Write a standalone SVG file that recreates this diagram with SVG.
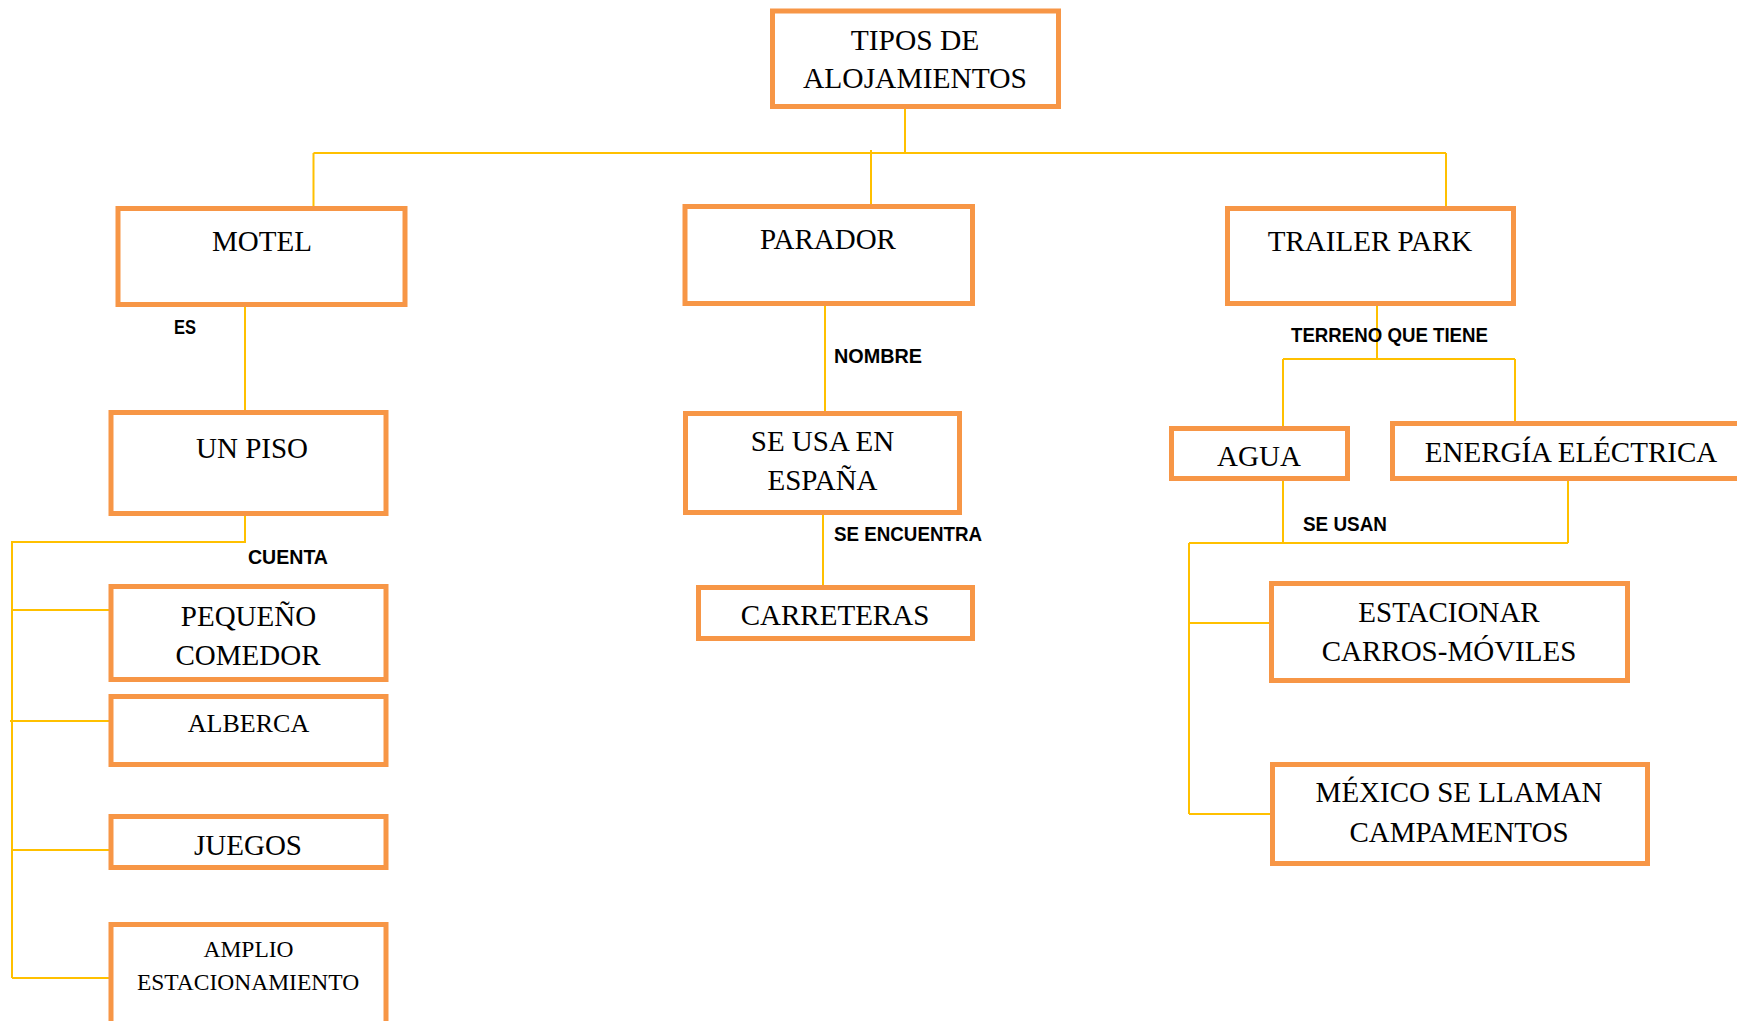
<svg xmlns="http://www.w3.org/2000/svg" width="1737" height="1021" viewBox="0 0 1737 1021">
<style>
.box{fill:#fff;stroke:#F79646;stroke-width:5}
.t{font-family:"Liberation Serif","Times New Roman",serif;font-size:29px;fill:#000;text-anchor:middle}
.lbl{font-family:"Liberation Sans",Arial,sans-serif;font-size:20px;font-weight:bold;fill:#000}
.c{fill:none;stroke:#FFC000;stroke-width:2}
</style>
<rect width="1737" height="1021" fill="#fff"/>
<g id="connectors">
<path class="c" d="M905 109V153M313.5 153H1446M313.5 153V206M871 150V204M1446 153V206"/>
<path class="c" d="M245 307V410"/>
<path class="c" d="M245 516V542H12V978M12 610H109M10 721H109M12 850H109M12 978H109"/>
<path class="c" d="M825 306V411M823 515V585"/>
<path class="c" d="M1377 306V359M1283 359H1515M1283 359V426M1515 359V421"/>
<path class="c" d="M1283 481V543M1568 481V543M1189 543H1568M1189 543V814M1189 623H1269M1189 814H1270"/>
</g>
<g id="labels">
<text class="lbl" x="174" y="334" textLength="22" lengthAdjust="spacingAndGlyphs">ES</text>
<text class="lbl" x="248" y="564" textLength="80" lengthAdjust="spacingAndGlyphs">CUENTA</text>
<text class="lbl" x="834" y="363" textLength="88" lengthAdjust="spacingAndGlyphs">NOMBRE</text>
<text class="lbl" x="834" y="541" textLength="148" lengthAdjust="spacingAndGlyphs">SE ENCUENTRA</text>
<text class="lbl" x="1291" y="342" textLength="197" lengthAdjust="spacingAndGlyphs">TERRENO QUE TIENE</text>
<text class="lbl" x="1303" y="531" textLength="84" lengthAdjust="spacingAndGlyphs">SE USAN</text>
</g>
<g id="n-tipos"><rect class="box" x="772.5" y="11" width="286" height="95.5"/><text class="t" x="915" y="50" style="font-size:29.5px">TIPOS DE</text><text class="t" x="915" y="88" style="font-size:29.5px">ALOJAMIENTOS</text></g>
<g id="n-motel"><rect class="box" x="118" y="208.5" width="287" height="96"/><text class="t" x="262" y="251">MOTEL</text></g>
<g id="n-parador"><rect class="box" x="685" y="206.5" width="287.5" height="97"/><text class="t" x="828" y="249">PARADOR</text></g>
<g id="n-trailer"><rect class="box" x="1227.5" y="208.5" width="286" height="95"/><text class="t" x="1370" y="251">TRAILER PARK</text></g>
<g id="n-unpiso"><rect class="box" x="111" y="412.5" width="275" height="101"/><text class="t" x="252" y="458">UN PISO</text></g>
<g id="n-pequeno"><rect class="box" x="111" y="586.5" width="275" height="93"/><text class="t" x="248.5" y="626">PEQUEÑO</text><text class="t" x="248" y="665">COMEDOR</text></g>
<g id="n-alberca"><rect class="box" x="111" y="696.5" width="275" height="68"/><text class="t" x="248.5" y="732" style="font-size:26px">ALBERCA</text></g>
<g id="n-juegos"><rect class="box" x="111" y="816.5" width="275" height="51"/><text class="t" x="248" y="855">JUEGOS</text></g>
<g id="n-amplio"><rect class="box" x="111" y="924.5" width="275" height="110"/><text class="t" x="248.5" y="957" style="font-size:23.5px">AMPLIO</text><text class="t" x="248" y="990" style="font-size:23.5px">ESTACIONAMIENTO</text></g>
<g id="n-seusa"><rect class="box" x="685.5" y="413.5" width="274" height="99"/><text class="t" x="822.5" y="451">SE USA EN</text><text class="t" x="822.5" y="490">ESPAÑA</text></g>
<g id="n-carreteras"><rect class="box" x="698.5" y="587.5" width="274" height="51"/><text class="t" x="835" y="625">CARRETERAS</text></g>
<g id="n-agua"><rect class="box" x="1171.5" y="428.5" width="176" height="50"/><text class="t" x="1259" y="466">AGUA</text></g>
<g id="n-energia"><rect class="box" x="1392.5" y="423.5" width="360" height="55"/><text class="t" x="1571" y="462">ENERGÍA ELÉCTRICA</text></g>
<g id="n-estacionar"><rect class="box" x="1271.5" y="583.5" width="356" height="97"/><text class="t" x="1449" y="622">ESTACIONAR</text><text class="t" x="1449" y="661">CARROS-MÓVILES</text></g>
<g id="n-mexico"><rect class="box" x="1272.5" y="764.5" width="375" height="99"/><text class="t" x="1459" y="802">MÉXICO SE LLAMAN</text><text class="t" x="1459" y="842">CAMPAMENTOS</text></g>
</svg>
